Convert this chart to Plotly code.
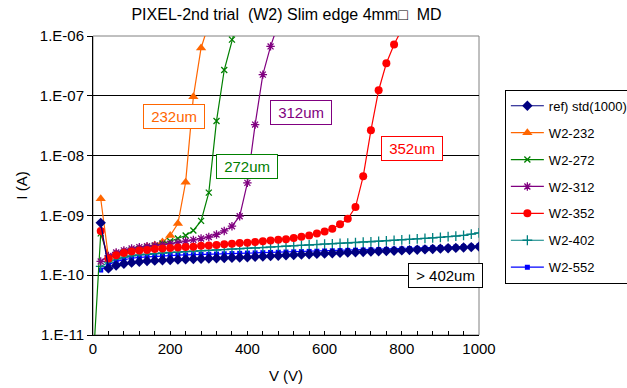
import plotly.graph_objects as go

# ---------------- data ----------------
v_full = [20, 40, 60, 80, 100, 120, 140, 160, 180, 200, 220, 240, 260, 280, 300, 320, 340, 360, 380, 400,
          420, 440, 460, 480, 500, 520, 540, 560, 580, 600, 620, 640, 660, 680, 700, 720, 740, 760, 780, 800,
          820, 840, 860, 880, 900, 920, 940, 960, 980, 1000]

i_ref = [7.5e-10, 1.3e-10, 1.45e-10, 1.55e-10, 1.62e-10, 1.68e-10, 1.72e-10, 1.75e-10, 1.78e-10, 1.8e-10,
         1.82e-10, 1.84e-10, 1.86e-10, 1.88e-10, 1.9e-10, 1.92e-10, 1.94e-10, 1.96e-10, 1.98e-10, 2.0e-10,
         2.03e-10, 2.06e-10, 2.09e-10, 2.12e-10, 2.15e-10, 2.18e-10, 2.21e-10, 2.24e-10, 2.27e-10, 2.3e-10,
         2.33e-10, 2.36e-10, 2.39e-10, 2.42e-10, 2.45e-10, 2.48e-10, 2.51e-10, 2.54e-10, 2.57e-10, 2.6e-10,
         2.63e-10, 2.66e-10, 2.7e-10, 2.74e-10, 2.78e-10, 2.82e-10, 2.86e-10, 2.9e-10, 2.95e-10, 3.0e-10]

i_552 = [1.22e-10, 1.5e-10, 1.7e-10, 1.82e-10, 1.92e-10, 1.98e-10, 2.03e-10, 2.07e-10, 2.1e-10, 2.13e-10,
         2.16e-10, 2.18e-10, 2.2e-10, 2.22e-10, 2.24e-10, 2.26e-10, 2.28e-10, 2.3e-10, 2.32e-10, 2.34e-10,
         2.36e-10, 2.38e-10, 2.4e-10, 2.42e-10, 2.44e-10, 2.46e-10, 2.48e-10, 2.5e-10, 2.52e-10, 2.54e-10,
         2.56e-10, 2.58e-10, 2.6e-10, 2.62e-10, 2.64e-10, 2.66e-10, 2.68e-10, 2.7e-10, 2.72e-10, 2.75e-10,
         2.78e-10, 2.81e-10, 2.84e-10, 2.87e-10, 2.9e-10, 2.93e-10, 2.96e-10, 3.0e-10, 3.04e-10, 3.08e-10]

i_402 = [1.4e-10, 1.65e-10, 1.85e-10, 2.0e-10, 2.1e-10, 2.18e-10, 2.24e-10, 2.3e-10, 2.35e-10, 2.4e-10,
         2.44e-10, 2.48e-10, 2.52e-10, 2.56e-10, 2.6e-10, 2.64e-10, 2.68e-10, 2.72e-10, 2.76e-10, 2.8e-10,
         2.85e-10, 2.9e-10, 2.95e-10, 3.0e-10, 3.05e-10, 3.1e-10, 3.15e-10, 3.2e-10, 3.25e-10, 3.3e-10,
         3.35e-10, 3.4e-10, 3.45e-10, 3.5e-10, 3.56e-10, 3.62e-10, 3.68e-10, 3.75e-10, 3.82e-10, 3.9e-10,
         3.98e-10, 4.06e-10, 4.14e-10, 4.22e-10, 4.3e-10, 4.4e-10, 4.5e-10, 4.65e-10, 4.85e-10, 5.1e-10]

v_352 = [20, 40, 60, 80, 100, 120, 140, 160, 180, 200, 220, 240, 260, 280, 300, 320, 340, 360, 380, 400,
         420, 440, 460, 480, 500, 520, 540, 560, 580, 600, 620, 640, 660, 680, 700, 720, 740, 760, 780, 800]
i_352 = [5.5e-10, 1.9e-10, 2.15e-10, 2.35e-10, 2.5e-10, 2.6e-10, 2.65e-10, 2.75e-10, 2.8e-10, 2.85e-10,
         2.9e-10, 2.95e-10, 3.0e-10, 3.1e-10, 3.15e-10, 3.2e-10, 3.3e-10, 3.35e-10, 3.45e-10, 3.5e-10,
         3.6e-10, 3.7e-10, 3.8e-10, 3.9e-10, 4.0e-10, 4.2e-10, 4.4e-10, 4.6e-10, 5.0e-10, 5.4e-10,
         6.0e-10, 7.1e-10, 8.8e-10, 1.38e-9, 4.5e-9, 2.65e-8, 1.24e-7, 3.5e-7, 7.2e-7, 1.3e-6]

v_312 = [20, 40, 60, 80, 100, 120, 140, 160, 180, 200, 220, 240, 260, 280, 300, 320, 340, 360, 380, 400,
         420, 440, 460, 480]
i_312 = [1.7e-10, 2.1e-10, 2.4e-10, 2.6e-10, 2.8e-10, 2.95e-10, 3.05e-10, 3.15e-10, 3.25e-10, 3.35e-10,
         3.5e-10, 3.7e-10, 3.9e-10, 4.1e-10, 4.35e-10, 4.8e-10, 5.5e-10, 6.6e-10, 9.7e-10, 3.5e-9,
         3.3e-8, 2.26e-7, 6.7e-7, 1.6e-6]

v_272 = [0, 20, 40, 60, 80, 100, 120, 140, 160, 180, 200, 220, 240, 260, 280, 300, 320, 340, 360, 380]
i_272 = [3e-12, 5e-10, 1.9e-10, 2.2e-10, 2.4e-10, 2.6e-10, 2.75e-10, 2.9e-10, 3.1e-10, 3.4e-10,
         3.7e-10, 4.1e-10, 4.6e-10, 5.6e-10, 8.1e-10, 2.4e-9, 3.8e-8, 2.7e-7, 8.7e-7, 2.5e-6]

v_232 = [20, 40, 60, 80, 100, 120, 140, 160, 180, 200, 220, 240, 260, 280, 300]
i_232 = [1.9e-9, 2.0e-10, 2.3e-10, 2.5e-10, 2.65e-10, 2.8e-10, 3.0e-10, 3.2e-10, 3.6e-10, 4.6e-10,
         7.3e-10, 3.6e-9, 9.6e-8, 6.3e-7, 1.6e-6]

y_tickvals = [1e-11, 1e-10, 1e-9, 1e-8, 1e-7, 1e-6]
y_ticktext = ["1.E-11", "1.E-10", "1.E-09", "1.E-08", "1.E-07", "1.E-06"]

labels = ["232um", "272um", "312um", "352um", "> 402um"]
label_v = [210, 398, 540, 826, 912]          # V (data units)
label_logi = [-7.343, -8.18, -7.276, -7.878, -10.0]   # log10(I)

FONT = "Liberation Sans, Arial, sans-serif"

# ---------------- figure ----------------
fig = go.Figure()

def add(name, x, y, color, symbol, size, rank, lw=1.2, mline=None):
    marker = dict(symbol=symbol, size=size, color=color)
    if mline is not None:
        marker["line"] = dict(color=color, width=mline)
    fig.add_trace(go.Scatter(x=x, y=y, name=name, mode="lines+markers",
                             line=dict(color=color, width=lw), marker=marker,
                             legendrank=rank, legendgroup=name))

add("W2-552", v_full, i_552, "#0000FF", "square", 5, 7)
add("W2-402", v_full, i_402, "#008080", "cross-thin-open", 7, 6, mline=1.3)
add("W2-232", v_232, i_232, "#FF6600", "triangle-up", 9, 2)
add("W2-272", v_272, i_272, "#008000", "x-thin-open", 6, 3, mline=1.3)
add("W2-312", v_312, i_312, "#800080", "asterisk-open", 7, 4, mline=1.3)
add("W2-352", v_352, i_352, "#FF0000", "circle", 8, 5)
add("ref) std(1000)", v_full, i_ref, "#000080", "diamond", 8, 1)

colors = ["#FF6600", "#008000", "#800080", "#FF0000", "#000000"]
for t, xv, yv, c in zip(labels, label_v, label_logi, colors):
    fig.add_annotation(x=xv, y=yv, xref="x", yref="y", text="\u00a0" + t + "\u00a0",
                       showarrow=False, font=dict(family=FONT, size=15, color=c),
                       bordercolor=c, borderwidth=1, borderpad=3, bgcolor="white")

fig.add_shape(type="rect", xref="paper", yref="paper", x0=0, x1=1, y0=0, y1=1,
              line=dict(color="#808080", width=1), fillcolor="rgba(0,0,0,0)", layer="below")

fig.update_layout(
    width=627, height=388,
    margin=dict(l=93, r=148, t=36, b=53, autoexpand=False),
    paper_bgcolor="white", plot_bgcolor="white",
    font=dict(family=FONT, size=15, color="black"),
    title=dict(text="PIXEL-2nd trial  (W2) Slim edge 4mm\u25a1  MD", x=0.457, xref="container",
               y=0.962, yref="container", yanchor="middle", xanchor="center",
               font=dict(family=FONT, size=16)),
    showlegend=True,
    legend=dict(x=1.067, y=0.82, xanchor="left", yanchor="top", bgcolor="white",
                bordercolor="black", borderwidth=1, font=dict(family=FONT, size=13),
                tracegroupgap=7, traceorder="grouped", itemwidth=33),
    xaxis=dict(range=[0, 1000], dtick=200, showgrid=False, zeroline=False,
               showline=True, linecolor="black", linewidth=1,
               ticks="inside", ticklen=4, tickcolor="black",
               minor=dict(dtick=40, ticks="inside", ticklen=4, tickcolor="black"),
               title=dict(text="V (V)", standoff=14, font=dict(size=15)),
               tickfont=dict(size=15)),
    yaxis=dict(type="log", range=[-11, -6], tickvals=y_tickvals, ticktext=y_ticktext,
               showgrid=True, gridcolor="black", gridwidth=1, zeroline=False,
               showline=True, linecolor="black", linewidth=1,
               ticks="outside", ticklen=5, tickcolor="black",
               title=dict(text="I (A)", standoff=8, font=dict(size=15)),
               tickfont=dict(size=15)),
)

fig.write_html("out.html")
